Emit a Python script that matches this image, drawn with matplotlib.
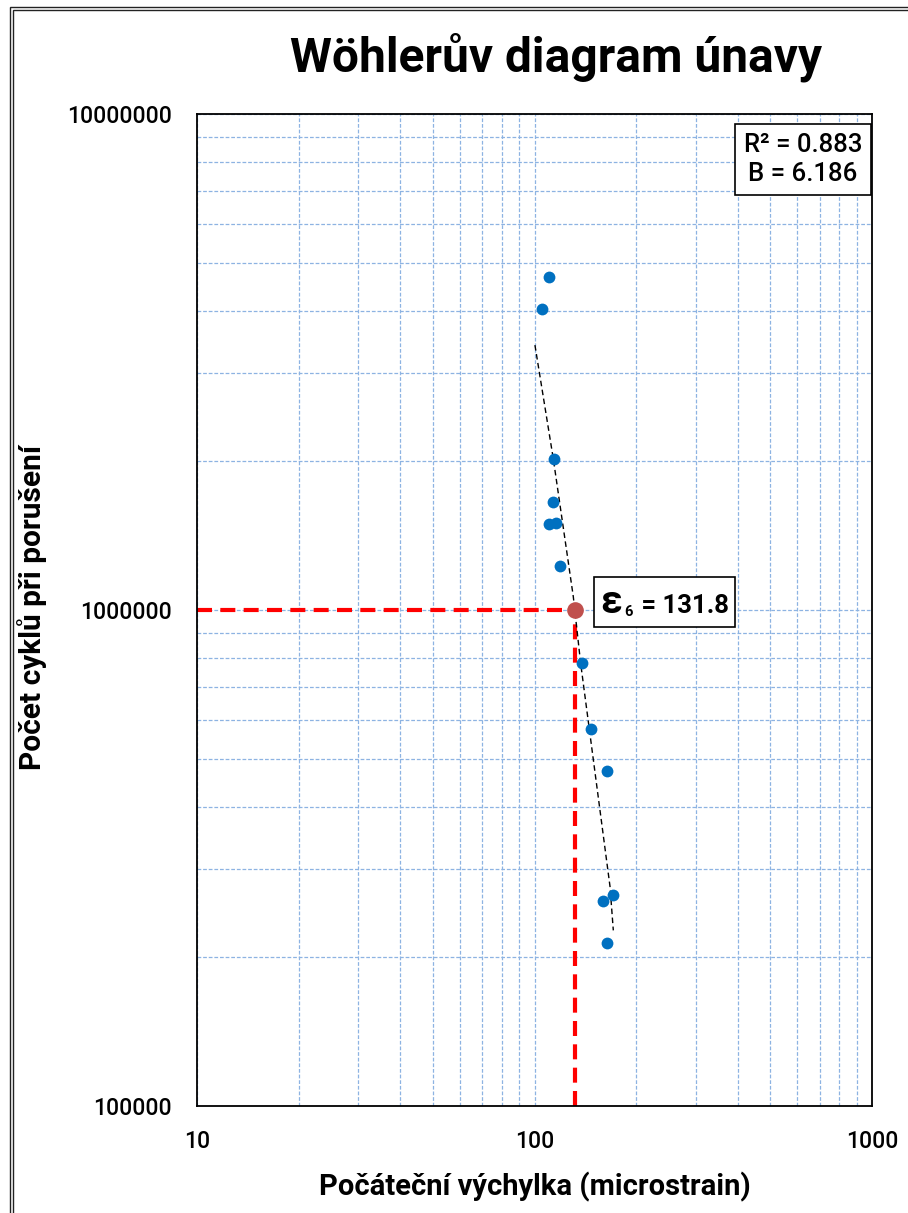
# Wöhlerův diagram únavy - log-log graf
import matplotlib
matplotlib.use("Agg")
import matplotlib.pyplot as plt
from matplotlib.patches import Rectangle
from matplotlib.offsetbox import TextArea, HPacker, AnchoredOffsetbox

plt.rcParams['font.family'] = ['Roboto', 'DejaVu Sans']
plt.rcParams['mathtext.fontset'] = 'custom'
plt.rcParams['mathtext.rm'] = 'Roboto'
plt.rcParams['mathtext.bf'] = 'Roboto:bold'

# naměřená data (počáteční výchylka, počet cyklů)
vychylka = [110.2, 105.2, 114.5, 113.4, 115.8, 110.6, 119.2,
            138.2, 146.7, 164.3, 159.2, 171.2, 164.3]
cykly = [4.70e6, 4.05e6, 2.016e6, 1.653e6, 1.50e6, 1.489e6, 1.227e6,
         7.83e5, 5.75e5, 4.73e5, 2.59e5, 2.66e5, 2.13e5]

# spojnice trendu
trend_x = [100.3, 113.7, 130.3, 137.0, 156.3, 167.4, 171.2]
trend_y = [3.42e6, 2.016e6, 1.064e6, 7.81e5, 3.95e5, 2.77e5, 2.26e5]

# osy - popisky
x_ticks = [10, 100, 1000]
x_labels = ['10', '100', '1000']
y_ticks = [1e5, 1e6, 1e7]
y_labels = ['100000', '1000000', '10000000']

# bod epsilon_6
eps6 = 131.8
n6 = 1e6
r2 = 0.883
b_exp = 6.186

fig = plt.figure(figsize=(9.08, 12.13), dpi=100)
ax = fig.add_axes([197/908, 1 - 1106/1213, 675/908, 992/1213])

# dvojitý rámeček okolo grafu
for (x0, y0) in [(10, 6.5), (13.2, 9.7)]:
    fig.patches.append(Rectangle((x0/908, 0 - 0.05), 1.2, 1 - y0/1213 + 0.05,
                                 transform=fig.transFigure, fill=False,
                                 edgecolor='#222222', linewidth=1.0))

ax.set_xscale('log')
ax.set_yscale('log')
ax.set_xlim(10, 1000)
ax.set_ylim(1e5, 1e7)

ax.grid(True, which='both', color='#8DB3E2', linestyle=(0, (3, 1.5)), linewidth=0.9)
ax.set_axisbelow(True)

# červené čáry k bodu epsilon_6
ax.plot([10, eps6], [n6, n6], color='#FF0000', linewidth=3, dashes=(3.6, 2.0), zorder=2)
ax.plot([eps6, eps6], [1e5, n6], color='#FF0000', linewidth=3, dashes=(3.6, 2.0), zorder=2)

# trend
ax.plot(trend_x, trend_y, color='black', linewidth=1.0, dashes=(4, 2.5), zorder=3)

# body
ax.plot(vychylka, cykly, 'o', color='#0070C0', markersize=8.5, markeredgewidth=0, zorder=4)
ax.plot([eps6], [n6], 'o', color='#C0504D', markersize=12, markeredgewidth=0, zorder=5)

# popisky os
ax.set_xticks(x_ticks)
ax.set_xticklabels(x_labels)
ax.set_yticks(y_ticks)
ax.set_yticklabels(y_labels)
ax.xaxis.set_tick_params(which='both', length=0, pad=17, labelsize=16.5)
ax.yaxis.set_tick_params(which='both', length=0, pad=18, labelsize=16.5)
for lab in ax.get_xticklabels() + ax.get_yticklabels():
    lab.set_fontweight('medium')

for s in ax.spines.values():
    s.set_linewidth(1.3)
    s.set_color('black')

ax.set_xlabel('Počáteční výchylka (microstrain)', fontsize=21, fontweight='bold')
ax.xaxis.set_label_coords(0.5, -0.066)
ax.set_ylabel('Počet cyklů při porušení', fontsize=21.5, fontweight='bold')
ax.yaxis.set_label_coords(-0.245, 0.503)
ax.yaxis.label.set_va('center')

fig.text(556/908, 1 - 72/1213, 'Wöhlerův diagram únavy', fontsize=34.5,
         fontweight='bold', ha='center', va='baseline')

# textové boxy
ax.text(0.898, 0.954, 'R² = %.3f\nB = %.3f' % (r2, b_exp), transform=ax.transAxes,
        ha='center', va='center', fontsize=18.5, fontweight='medium', linespacing=1.25,
        bbox=dict(boxstyle='square,pad=0.35', facecolor='white', edgecolor='black', linewidth=1.2),
        zorder=6)

# epsilon_6 - velké epsilon, malý index
eps_parts = HPacker(children=[
    TextArea('ε', textprops=dict(fontsize=28, fontweight='bold')),
    TextArea(r'$_{\mathbf{6}}$', textprops=dict(fontsize=15)),
    TextArea(' = %.1f' % eps6, textprops=dict(fontsize=18.5, fontweight='bold')),
], align='baseline', pad=0, sep=1)
eps_box = AnchoredOffsetbox(loc='center', child=eps_parts, pad=0.45, borderpad=0,
                            bbox_to_anchor=(0.693, 0.508), bbox_transform=ax.transAxes,
                            frameon=True)
eps_box.patch.set_edgecolor('black')
eps_box.patch.set_linewidth(1.2)
eps_box.set_zorder(6)
ax.add_artist(eps_box)

fig.savefig('out.png', dpi=100)
